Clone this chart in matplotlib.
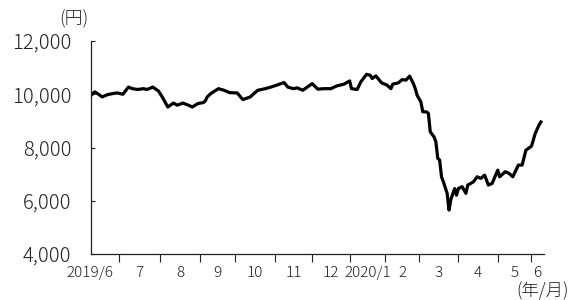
import numpy as np
import matplotlib as mpl
mpl.use('Agg')
import matplotlib.pyplot as plt

plt.rcParams['font.family'] = ['Noto Sans CJK JP', 'DejaVu Sans']
plt.rcParams['font.weight'] = 'light'

# trading days shown in each month (2019/6 .. 2020/6)
month_labels = ['2019/6', '7', '8', '9', '10', '11', '12',
                '2020/1', '2', '3', '4', '5', '6']
month_days = [15, 22, 21, 19, 21, 20, 20, 19, 18, 21, 21, 18, 7]

# price readings (yen) at trading-day index
day_idx = [0, 2, 4, 6, 9, 12, 14, 17, 20, 22, 25, 28, 30, 33, 36, 38, 41, 44,
           46, 49, 52, 54, 57, 60, 61, 62, 64, 68, 71, 74, 78, 81, 85, 87, 89,
           93, 96, 99, 103, 105, 108, 110, 113, 118, 121, 124, 126, 128, 131,
           135, 138, 139, 142, 144, 147, 149, 150, 152, 155, 158, 160, 161,
           164, 166, 168, 170, 172, 173, 174, 176, 177, 179, 180, 181, 183,
           184, 185, 186, 187, 188, 190, 191, 192, 194, 195, 196, 198, 200,
           201, 204, 206, 208, 210, 212, 214, 217, 218, 221, 223, 225, 228,
           230, 232, 235, 237, 239, 240]
price = [9960, 10090, 10000, 9900, 9990, 10030, 10050, 10000, 10270, 10210,
         10180, 10210, 10180, 10270, 10120, 9900, 9520, 9670, 9590, 9670,
         9590, 9520, 9650, 9690, 9750, 9900, 10030, 10210, 10150, 10060,
         10050, 9800, 9900, 10030, 10150, 10210, 10270, 10340, 10440, 10270,
         10210, 10240, 10150, 10400, 10190, 10210, 10210, 10210, 10310,
         10380, 10500, 10210, 10180, 10470, 10750, 10710, 10590, 10690,
         10430, 10340, 10210, 10380, 10430, 10550, 10530, 10680, 10400,
         10210, 9960, 9710, 9340, 9340, 9280, 8590, 8400, 8210, 7590, 7530,
         6900, 6710, 6280, 5650, 6050, 6460, 6210, 6460, 6530, 6280, 6590,
         6710, 6900, 6840, 6960, 6590, 6650, 7150, 6900, 7090, 7030, 6900,
         7340, 7340, 7900, 8050, 8530, 8840, 8960]

yticks = [4000, 6000, 8000, 10000, 12000]

fig = plt.figure(figsize=(5.74, 3.0), dpi=100)
ax = fig.add_axes([0.1585, 0.1533, 0.789, 0.71])

ax.plot(day_idx, price, color='black', lw=2.3, solid_joinstyle='round')

bounds = np.cumsum(month_days)
ax.set_xlim(0, 241.6)
ax.set_ylim(4000, 12000)

ax.set_yticks(yticks)
ax.set_yticklabels([f'{v:,}' for v in yticks])
ax.tick_params(axis='y', direction='in', length=3, width=0.8, pad=14,
               labelsize=14.5, colors='#222222', labelcolor='#222222')

ax.set_xticks(bounds[:-1])
ax.set_xticklabels([])
ax.tick_params(axis='x', direction='out', length=6, width=0.8, color='#222222')

# month labels centred in each month
starts = np.concatenate([[0], bounds[:-1]])
centers = (starts + bounds) / 2.0
centers[0] = -0.5
centers[-1] = (bounds[-2] + 241.6) / 2.0
for c, lab in zip(centers, month_labels):
    ax.text(c, -0.09, lab, transform=ax.get_xaxis_transform(), ha='center',
            va='center', fontsize=11, color='#222222', clip_on=False)

for s in ['top', 'right']:
    ax.spines[s].set_visible(False)
for s in ['left', 'bottom']:
    ax.spines[s].set_linewidth(0.9)
    ax.spines[s].set_color('#222222')

fig.text(0.129, 0.937, '(円)', ha='center', va='center', fontsize=13, color='#222222')
fig.text(0.946, 0.03, '(年/月)', ha='center', va='center', fontsize=12.5, color='#222222')

fig.savefig('out.png', dpi=100)
